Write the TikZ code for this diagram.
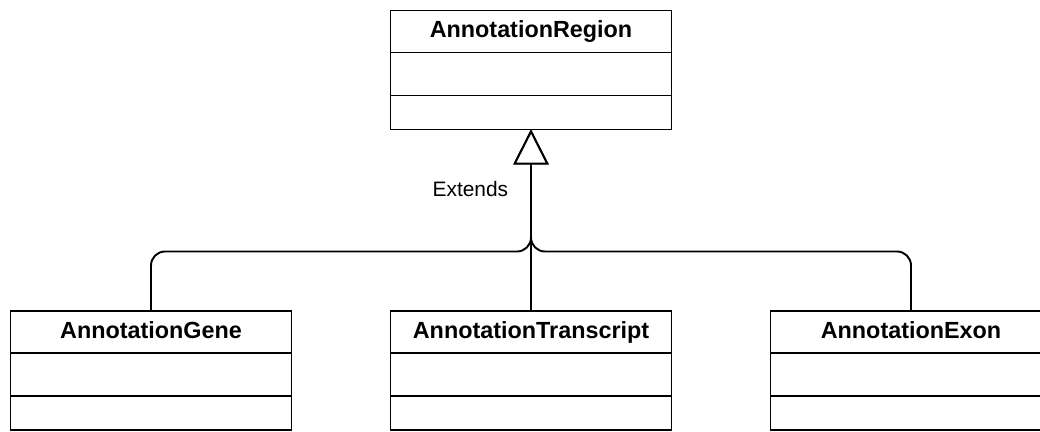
\documentclass[tikz,border=0pt]{standalone}
\usepackage{fontspec}
\setmainfont{Liberation Sans}
\usetikzlibrary{
  arrows.meta,
  positioning
}
\tikzset{
  class head/.style={
    draw, line width=1pt, outer sep=0pt, inner sep=0pt,
    minimum width=5.62cm, minimum height=0.84cm,
    text height=0.95em, text depth=0.23em,
    font=\fontsize{13.3}{16}\selectfont\bfseries
  },
  class attr/.style={
    draw, line width=1pt, outer sep=0pt,
    minimum width=5.62cm, minimum height=0.86cm
  },
  class ops/.style={
    draw, line width=1pt, outer sep=0pt,
    minimum width=5.62cm, minimum height=0.68cm
  },
  extends/.style={
    -{Triangle[length=0.7cm, width=0.7cm, fill=white]},
    line width=1.1pt, rounded corners=0.28cm
  },
}

\begin{document}
\begin{tikzpicture}[x=0.02cm, y=-0.02cm]

  \useasboundingbox (0,0) rectangle (1040,432);

  % parent class
  \node[class head] (region) at (531,31.5) {AnnotationRegion};
  \node[class attr, below=0pt of region] (region-attr) {};
  \node[class ops, below=0pt of region-attr] (region-ops) {};

  % child classes
  \node[class head] (gene) at (151,332) {AnnotationGene};
  \node[class attr, below=0pt of gene] (gene-attr) {};
  \node[class ops, below=0pt of gene-attr] (gene-ops) {};

  \node[class head] (transcript) at (531,332) {AnnotationTranscript};
  \node[class attr, below=0pt of transcript] (transcript-attr) {};
  \node[class ops, below=0pt of transcript-attr] (transcript-ops) {};

  \node[class head] (exon) at (911,332) {AnnotationExon};
  \node[class attr, below=0pt of exon] (exon-attr) {};
  \node[class ops, below=0pt of exon-attr] (exon-ops) {};

  % inheritance
  \coordinate (hub) at (531,251.5);
  \draw[extends] (gene.north) |- (hub) -- (region-ops.south);
  \draw[extends] (exon.north) |- (hub) -- (region-ops.south);
  \draw[extends] (transcript.north) -- (region-ops.south)
    node[pos=0.67, left=0.32cm, font=\fontsize{11.9}{14}\selectfont] (extlabel) {Extends};

\end{tikzpicture}
\end{document}
